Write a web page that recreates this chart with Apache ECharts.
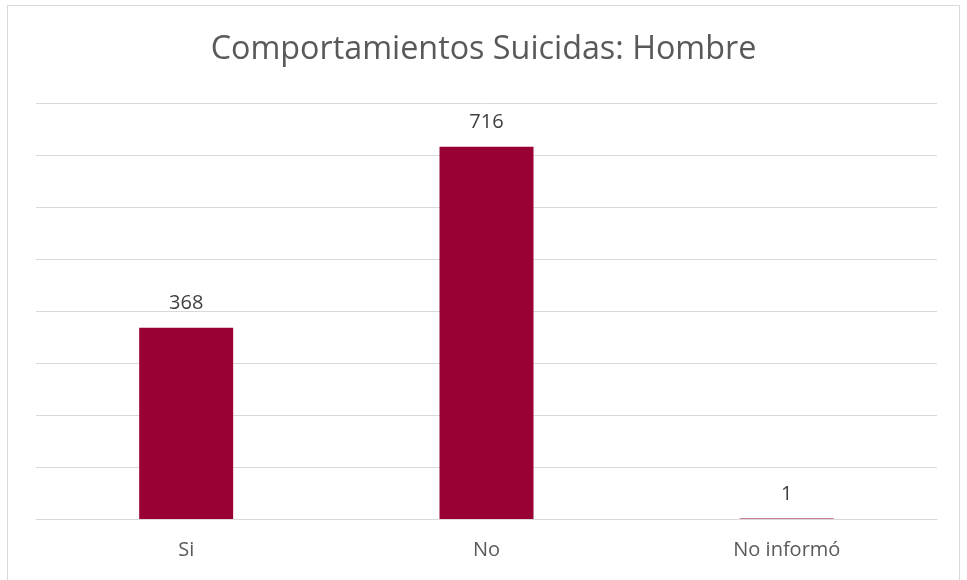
<!DOCTYPE html>
<html><head><meta charset="utf-8">
<script src="https://cdn.jsdelivr.net/npm/echarts@6/dist/echarts.min.js"></script>
<style>
html,body{margin:0;padding:0;background:#fff;}
#frame{position:absolute;left:7px;top:5px;width:953px;height:590px;border:1px solid #d9d9d9;box-sizing:border-box;}
#c{position:absolute;left:0;top:0;width:967px;height:580px;}
</style></head>
<body><div id="frame"></div><div id="c"></div>
<script>
const categories = ['Si', 'No', 'No informó'];
const values = [368, 716, 1];
const titleText = 'Comportamientos Suicidas: Hombre';

const chart = echarts.init(document.getElementById('c'));
chart.setOption({
  animation: false,
  title: {
    text: titleText, left: 'center', top: 29,
    textStyle: { fontFamily: 'Open Sans', fontSize: 32.3, fontWeight: 'normal', color: '#595959' }
  },
  grid: { left: 36, right: 30, top: 103, bottom: 61 },
  xAxis: {
    type: 'category', data: categories,
    axisLine: { lineStyle: { color: '#d9d9d9', width: 1 } },
    axisTick: { show: false },
    axisLabel: { fontFamily: 'Open Sans', fontSize: 20, color: '#595959', margin: 21 }
  },
  yAxis: {
    type: 'value', min: 0, max: 800, interval: 100,
    axisLabel: { show: false }, axisLine: { show: false }, axisTick: { show: false },
    splitLine: { lineStyle: { color: '#d9d9d9', width: 1 } }
  },
  series: [{
    type: 'bar', data: values, barWidth: '31.3%',
    itemStyle: { color: '#990033' },
    label: { show: true, position: 'top', distance: 14, fontFamily: 'Open Sans', fontSize: 20, color: '#404040' }
  }]
});
</script></body></html>
